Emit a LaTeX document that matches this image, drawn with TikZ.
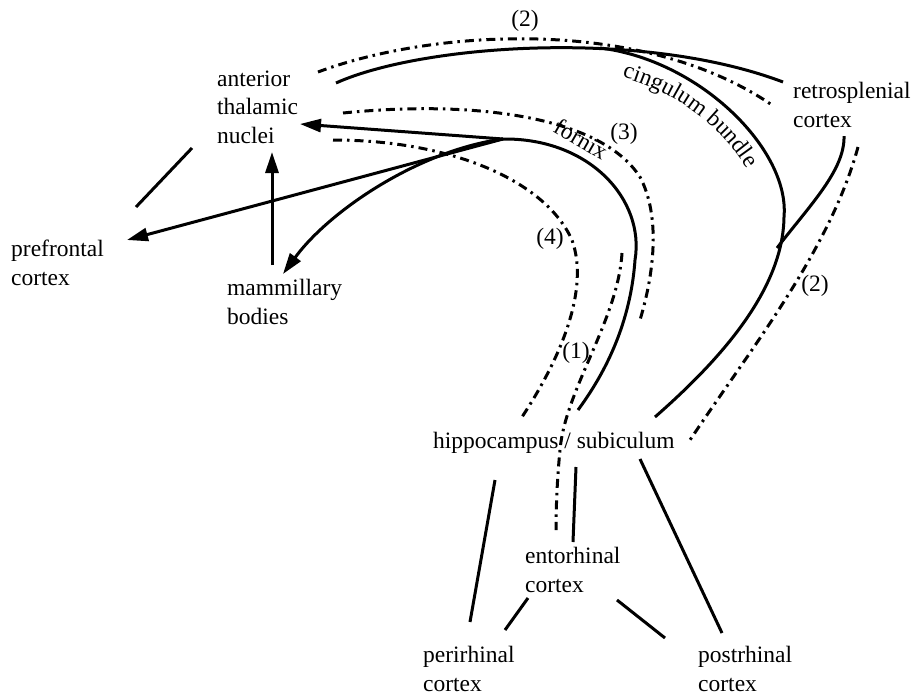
\documentclass[tikz,border=0pt]{standalone}
\usepackage{fontspec}
\setmainfont{Liberation Serif}
\usetikzlibrary{arrows.meta, decorations.text}

\begin{document}
\begin{tikzpicture}[x=1pt, y=-1pt,
    tract/.style={line width=3pt},
    dashtract/.style={line width=3pt, dash pattern=on 9pt off 5pt on 2.5pt off 5pt},
    proj/.style={tract, -{Triangle[length=21pt, width=13pt]}},
    region/.style={font=\fontsize{23.5}{28.5}\selectfont, inner sep=0pt, align=left, anchor=base west},
    tag/.style={font=\fontsize{23.5}{28.5}\selectfont, inner sep=0pt, anchor=base}]
    \useasboundingbox (0,0) rectangle (913,697);

    % Brain regions (anchored at the baseline of the last line)
    \node[region] (atn) at (217,143) {anterior\\thalamic\\nuclei};
    \node[region] (pfc) at (11,285) {prefrontal\\cortex};
    \node[region] (mb) at (227,324) {mammillary\\bodies};
    \node[region] (rsc) at (793,127) {retrosplenial\\cortex};
    \node[region] (hip) at (433,448) {hippocampus / subiculum};
    \node[region] (ento) at (525,592) {entorhinal\\cortex};
    \node[region] (peri) at (423,691) {perirhinal\\cortex};
    \node[region] (post) at (698,691) {postrhinal\\cortex};

    % Route numbers
    \node[tag] (r2a) at (525,26) {(2)};
    \node[tag] (r3) at (624,139) {(3)};
    \node[tag] (r4) at (550,244) {(4)};
    \node[tag] (r1) at (576,358) {(1)};
    \node[tag] (r2b) at (815,291) {(2)};
    \node[font=\fontsize{23.5}{28.5}\selectfont, inner sep=0pt, rotate=-30] (fxlabel) at (581,139) {fornix};
    \path[decorate, decoration={text along path, text align=left,
        text={|\fontsize{23.5}{28.5}\selectfont|cingulum bundle}}]
        (622,77) .. controls (680,94) and (722,127) .. (750,174);

    % Tract end points
    \coordinate (fx) at (503,139);
    \coordinate (cgA) at (336,83);
    \coordinate (cgB) at (783,82);
    \coordinate (cgC) at (600,48);
    \coordinate (cgD) at (784,217);
    \coordinate (cgE) at (655,417);
    \coordinate (cgF) at (777,248);
    \coordinate (cgG) at (844,136);
    \coordinate (fxEnd) at (578,410);

    % Cingulum bundle
    \draw[tract] (cgA) .. controls (420,45) and (640,28) .. (cgB);
    \draw[tract] (cgC) .. controls (700,60) and (790,150) .. (cgD)
        .. controls (783,290) and (720,360) .. (cgE);
    \draw[tract] (cgF) .. controls (810,205) and (845,170) .. (cgG);

    % Fornix and its projections
    \draw[tract] (fx) .. controls (590,138) and (645,200) .. (635,260)
        .. controls (630,330) and (600,380) .. (fxEnd);
    \draw[proj] (fx) -- (300,124);
    \draw[proj] (fx) -- (127,240);
    \draw[proj] (fx) .. controls (420,150) and (330,210) .. (283,274);
    \draw[proj] (272,265) -- (272,152);

    % Routes (dash-dot)
    \draw[dashtract] (318,72) .. controls (430,30) and (640,15) .. (772,105);
    \draw[dashtract] (858,147) .. controls (830,250) and (750,350) .. (690,440);
    \draw[dashtract] (343,113) .. controls (470,100) and (600,115) .. (640,177)
        .. controls (660,215) and (655,270) .. (640,320);
    \draw[dashtract] (333,140) .. controls (450,140) and (545,180) .. (572,240)
        .. controls (590,290) and (560,360) .. (520,420);
    \draw[dashtract] (622,253) .. controls (618,320) and (565,390) .. (560,450)
        .. controls (557,480) and (556,510) .. (556,530);

    % Direct connections
    \draw[tract] (192,148) -- (136,207);
    \draw[tract] (495,480) -- (470,622);
    \draw[tract] (576,467) -- (573,542);
    \draw[tract] (640,459) -- (722,633);
    \draw[tract] (528,598) -- (505,630);
    \draw[tract] (617,600) -- (665,638);
\end{tikzpicture}
\end{document}
